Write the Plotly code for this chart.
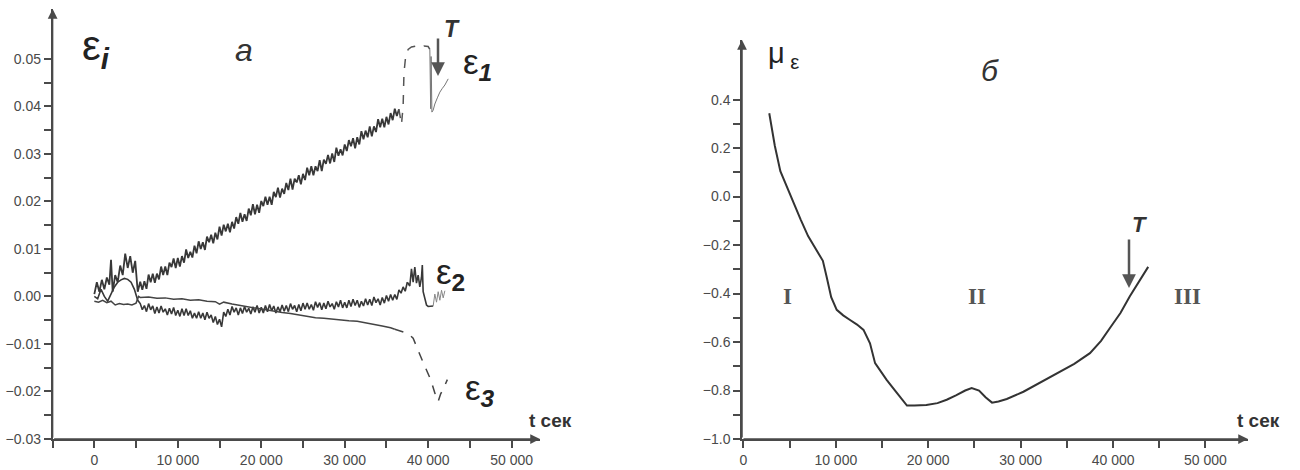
import plotly.graph_objects as go

W, H = 1300, 470

# ---------------- data ----------------
# panel a : strains eps_1, eps_2, eps_3 vs time (s)
eps1_start_t = [0, 300, 600, 900, 1200, 1500, 1800, 2000, 2200, 2500, 2800, 3100, 3400, 3700, 4000, 4300, 4600, 4900, 5200]
eps1_start_v = [0.0005, 0.003, 0.001, 0.0035, 0.0015, 0.004, 0.0025, 0.0077, 0.001, 0.0045, 0.003, 0.0065, 0.0045, 0.009, 0.006, 0.0085, 0.005, 0.0075, 0.001]

eps1_main_t = list(range(5500, 36750, 250))
eps1_main_v = [0.0031, 0.0014, 0.0032, 0.0016, 0.0046, 0.0030, 0.0048, 0.0029, 0.0048, 0.0036,
               0.0063, 0.0045, 0.0063, 0.0045, 0.0071, 0.0062, 0.0080, 0.0060, 0.0081, 0.0063,
               0.0085, 0.0071, 0.0099, 0.0081, 0.0094, 0.0082, 0.0107, 0.0091, 0.0116, 0.0100,
               0.0114, 0.0098, 0.0126, 0.0114, 0.0130, 0.0112, 0.0134, 0.0120, 0.0147, 0.0128,
               0.0151, 0.0137, 0.0153, 0.0135, 0.0157, 0.0143, 0.0167, 0.0153, 0.0176, 0.0157,
               0.0173, 0.0159, 0.0185, 0.0171, 0.0194, 0.0173, 0.0193, 0.0176, 0.0201, 0.0190,
               0.0210, 0.0193, 0.0210, 0.0193, 0.0220, 0.0209, 0.0229, 0.0208, 0.0227, 0.0216,
               0.0239, 0.0224, 0.0248, 0.0225, 0.0248, 0.0240, 0.0255, 0.0236, 0.0258, 0.0245,
               0.0271, 0.0255, 0.0274, 0.0255, 0.0274, 0.0264, 0.0287, 0.0264, 0.0288, 0.0279,
               0.0298, 0.0280, 0.0301, 0.0283, 0.0313, 0.0296, 0.0310, 0.0297, 0.0320, 0.0306,
               0.0329, 0.0316, 0.0333, 0.0312, 0.0335, 0.0320, 0.0348, 0.0331, 0.0349, 0.0335,
               0.0358, 0.0337, 0.0358, 0.0346, 0.0373, 0.0356, 0.0374, 0.0356, 0.0378, 0.0362,
               0.0386, 0.0371, 0.0395, 0.0380, 0.0394]

eps1_top_t = [36500, 36800, 37000, 37100, 37300, 37600, 38000, 38500, 39000, 39500, 40000, 40200]
eps1_top_v = [0.0394, 0.0362, 0.0400, 0.0470, 0.0505, 0.0520, 0.0525, 0.0527, 0.0524, 0.0527, 0.0526, 0.0520]

eps1_tail_t = [40200, 40300, 40350, 40450, 40600, 40800, 41100, 41400, 41700, 42000, 42400]
eps1_tail_v = [0.0520, 0.0395, 0.0505, 0.0388, 0.0392, 0.0405, 0.0418, 0.0430, 0.0438, 0.0445, 0.0458]

eps2_start_t = [0, 400, 800, 1200, 1600, 2000, 2400, 2800, 3200, 3600, 4000, 4400, 4800, 5200]
eps2_start_v = [0.0, -0.0005, 0.0015, 0.0, -0.001, 0.0005, 0.002, 0.003, 0.0035, 0.0038, 0.0036, 0.003, 0.0015, -0.0008]

eps2_main_t = list(range(5500, 37750, 250))
eps2_main_v = [-0.0015, -0.0028, -0.0019, -0.0032, -0.0015, -0.0028, -0.0020, -0.0036, -0.0022, -0.0035,
               -0.0020, -0.0033, -0.0026, -0.0039, -0.0025, -0.0037, -0.0023, -0.0040, -0.0029, -0.0042,
               -0.0026, -0.0040, -0.0026, -0.0040, -0.0030, -0.0046, -0.0035, -0.0046, -0.0032, -0.0046,
               -0.0035, -0.0049, -0.0033, -0.0046, -0.0039, -0.0055, -0.0042, -0.0059, -0.0048, -0.0064,
               -0.0033, -0.0042, -0.0027, -0.0039, -0.0021, -0.0033, -0.0024, -0.0039, -0.0024, -0.0036,
               -0.0021, -0.0033, -0.0025, -0.0037, -0.0022, -0.0033, -0.0019, -0.0035, -0.0023, -0.0035,
               -0.0019, -0.0032, -0.0017, -0.0030, -0.0020, -0.0035, -0.0022, -0.0032, -0.0018, -0.0031,
               -0.0019, -0.0032, -0.0015, -0.0027, -0.0019, -0.0032, -0.0017, -0.0030, -0.0014, -0.0027,
               -0.0014, -0.0027, -0.0017, -0.0029, -0.0011, -0.0023, -0.0013, -0.0028, -0.0014, -0.0026,
               -0.0010, -0.0022, -0.0015, -0.0027, -0.0011, -0.0022, -0.0008, -0.0024, -0.0012, -0.0024,
               -0.0008, -0.0021, -0.0006, -0.0019, -0.0008, -0.0023, -0.0010, -0.0020, -0.0005, -0.0018,
               -0.0006, -0.0019, -0.0001, -0.0013, -0.0005, -0.0018, -0.0002, -0.0014, 0.0002, -0.0010,
               0.0004, -0.0008, 0.0004, -0.0006, 0.0014, 0.0007, 0.0020, 0.0011, 0.0030]

eps2_end_t = [37500, 37800, 38000, 38200, 38400, 38600, 38800, 39000, 39200, 39300, 39400, 39600, 39800, 40000, 40300, 40600]
eps2_end_v = [0.0030, 0.0022, 0.0058, 0.0030, 0.0062, 0.0028, 0.0045, 0.0020, 0.0040, 0.0066, 0.0010, -0.0005, -0.0018, -0.0021, -0.0021, -0.0020]

eps2_tail_t = [40600, 40800, 41000, 41200, 41400, 41600, 41800, 42000]
eps2_tail_v = [-0.0020, 0.0005, -0.0012, 0.0010, -0.0008, 0.0013, -0.0003, 0.0012]

eps3_t = [0, 500, 1000, 1500, 2000, 2500, 3000, 3500, 4000, 4500, 5000, 5300,
          5500, 6500, 7500, 8500, 9500, 10500, 11500, 12500, 13500, 14500, 15000, 15500,
          16500, 17500, 18500, 19500, 20500, 21500, 22500, 23500, 24500, 25500, 26500, 27500,
          28500, 29500, 30500, 31500, 32500, 33500, 34500, 35500, 36000]
eps3_v = [-0.0010, -0.0012, -0.0008, -0.0013, -0.0010, -0.0018, -0.0015, -0.0017, -0.0016, -0.0018, -0.0014, 0.0000,
          -0.0002, -0.0001, -0.0004, -0.0003, -0.0006, -0.0005, -0.0008, -0.0007, -0.0010, -0.0011, -0.0016, -0.0012,
          -0.0016, -0.0019, -0.0022, -0.0025, -0.0029, -0.0031, -0.0034, -0.0036, -0.0039, -0.0042, -0.0045, -0.0046,
          -0.0048, -0.0049, -0.0051, -0.0052, -0.0055, -0.0058, -0.0062, -0.0066, -0.0069]

eps3_end_t = [36000, 37000, 37600, 38200, 38700, 39000, 39400, 39800, 40300, 40800, 41000, 41200, 41500, 41800, 42300]
eps3_end_v = [-0.0069, -0.0074, -0.0078, -0.0088, -0.0112, -0.0122, -0.0139, -0.0155, -0.0175, -0.0203, -0.0215, -0.0221, -0.0205, -0.0195, -0.0175]

# panel б : mu_eps vs time
mu_t = [2800, 3400, 4000, 4700, 5400, 6200, 7000, 7800, 8600, 9000, 9500, 10100, 10800, 11500, 12300, 13000,
        13700, 14250, 14900, 15500, 16500, 17700, 18500, 19800, 21000, 22000, 23000, 24000, 24700, 25500,
        26200, 26900, 27600, 28500, 30300, 32000, 34000, 35800, 37500, 38700, 39700, 40800, 41800, 42800, 43800]
mu_v = [0.344, 0.21, 0.105, 0.04, -0.026, -0.095, -0.163, -0.215, -0.265, -0.33, -0.415, -0.467, -0.49, -0.508, -0.528, -0.55,
        -0.605, -0.687, -0.725, -0.756, -0.805, -0.862, -0.862, -0.86, -0.852, -0.838, -0.82, -0.80, -0.79, -0.80,
        -0.828, -0.85, -0.845, -0.835, -0.805, -0.77, -0.728, -0.69, -0.646, -0.595, -0.54, -0.48, -0.412, -0.35, -0.29]

# tick labels
a_yticks = [-0.03, -0.02, -0.01, 0.0, 0.01, 0.02, 0.03, 0.04, 0.05]
a_yticktext = ["\u22120.03", "\u22120.02", "\u22120.01", "0.00", "0.01", "0.02", "0.03", "0.04", "0.05"]
a_yminor = [-0.025, -0.015, -0.005, 0.005, 0.015, 0.025, 0.035, 0.045]
t_ticks = [0, 10000, 20000, 30000, 40000, 50000]
t_ticktext = ["0", "10 000", "20 000", "30 000", "40 000", "50 000"]
a_xminor = [-5000, 5000, 15000, 25000, 35000, 45000]
b_xminor = [5000, 15000, 25000, 35000, 45000]
b_yticks = [-1.0, -0.8, -0.6, -0.4, -0.2, 0.0, 0.2, 0.4]
b_yticktext = ["\u22121.0", "\u22120.8", "\u22120.6", "\u22120.4", "\u22120.2", "0.0", "0.2", "0.4"]
b_yminor = [-0.9, -0.7, -0.5, -0.3, -0.1, 0.1, 0.3]

for a, b in [(eps1_start_t, eps1_start_v), (eps1_main_t, eps1_main_v), (eps1_top_t, eps1_top_v),
             (eps1_tail_t, eps1_tail_v), (eps2_start_t, eps2_start_v), (eps2_main_t, eps2_main_v),
             (eps2_end_t, eps2_end_v), (eps2_tail_t, eps2_tail_v), (eps3_t, eps3_v),
             (eps3_end_t, eps3_end_v), (mu_t, mu_v)]:
    assert len(a) == len(b), (len(a), len(b))

# ---------------- layout helpers ----------------
def xd(p0, p1):
    return [p0 / W, p1 / W]

def yd(top, bottom):
    return [1 - bottom / H, 1 - top / H]

def px(x):
    return x / W

def py(y):
    return 1 - y / H

DARK = "#333333"
AX = "#4a4a4a"
FONT = "Liberation Sans, Arial, sans-serif"

fig = go.Figure()

def line(x, y, xa, ya, color=DARK, width=1.0, dash="solid"):
    fig.add_trace(go.Scatter(x=x, y=y, mode="lines", xaxis=xa, yaxis=ya,
                             line=dict(color=color, width=width, dash=dash),
                             showlegend=False, hoverinfo="skip"))

# panel a
line(eps1_start_t + eps1_main_t, eps1_start_v + eps1_main_v, "x", "y", color="#383838", width=1.8)
line(eps1_top_t, eps1_top_v, "x", "y", color="#555", width=1.5, dash="dash")
line(eps1_tail_t, eps1_tail_v, "x", "y", color="#777", width=1.0)
line(eps2_start_t + eps2_main_t, eps2_start_v + eps2_main_v, "x", "y", color="#383838", width=1.6)
line(eps2_end_t, eps2_end_v, "x", "y", color="#383838", width=1.6)
line(eps2_tail_t, eps2_tail_v, "x", "y", color="#888", width=1.0)
line(eps3_t, eps3_v, "x", "y", color="#444", width=1.5)
line(eps3_end_t, eps3_end_v, "x", "y", color="#444", width=1.5, dash="dash")

# panel б
line(mu_t, mu_v, "x2", "y2", width=2.0)

A_XR = [-5000, 53400]
A_YR = [-0.03, 0.0605]
B_XR = [-150, 54600]
B_YR = [-1.0, 0.646]

tickfont = dict(family=FONT, size=14, color="#4a4a4a")
common = dict(showgrid=False, zeroline=False, showline=True, linecolor=AX, linewidth=1.5,
              ticks="outside", ticklen=7, tickwidth=1.5, tickcolor=AX, tickfont=tickfont,
              automargin=False, fixedrange=True)
minor_common = dict(ticks="outside", ticklen=7, tickwidth=1.5, tickcolor=AX, showgrid=False)

fig.update_layout(
    width=W, height=H,
    margin=dict(l=0, r=0, t=0, b=0),
    paper_bgcolor="white", plot_bgcolor="white",
    xaxis=dict(domain=xd(52.6, 540), range=A_XR, anchor="y", tickmode="array",
               tickvals=t_ticks, ticktext=t_ticktext,
               minor=dict(tickvals=a_xminor, **minor_common), **common),
    yaxis=dict(domain=yd(9, 439), range=A_YR, anchor="x", tickmode="array",
               tickvals=a_yticks, ticktext=a_yticktext,
               minor=dict(tickvals=a_yminor, **minor_common), **common),
    xaxis2=dict(domain=xd(742, 1248), range=B_XR, anchor="y2", tickmode="array",
                tickvals=t_ticks, ticktext=t_ticktext,
                minor=dict(tickvals=b_xminor, **minor_common), **common),
    yaxis2=dict(domain=yd(40, 439), range=B_YR, anchor="x2", tickmode="array",
                tickvals=b_yticks, ticktext=b_yticktext,
                minor=dict(tickvals=b_yminor, **minor_common), **common),
)

ann = []

def axis_arrow(xr, yr, x0, y0, x1, y1):
    ann.append(dict(xref=xr, yref=yr, axref=xr, ayref=yr, x=x1, y=y1, ax=x0, ay=y0,
                    text="", showarrow=True, arrowhead=2, arrowsize=1.3, arrowwidth=1.5,
                    arrowcolor=AX, standoff=0, startstandoff=0))

# arrowheads on the axes
axis_arrow("x", "y", A_XR[0], A_YR[0], A_XR[0], A_YR[1])
axis_arrow("x", "y", A_XR[0], A_YR[0], A_XR[1], A_YR[0])
axis_arrow("x2", "y2", B_XR[0], B_YR[0], B_XR[0], B_YR[1])
axis_arrow("x2", "y2", B_XR[0], B_YR[0], B_XR[1], B_YR[0])

def txt(x, y, s, size, color=DARK, family=FONT, xanchor="center", yanchor="middle"):
    ann.append(dict(xref="paper", yref="paper", x=px(x), y=py(y), text=s, showarrow=False,
                    font=dict(family=family, size=size, color=color),
                    xanchor=xanchor, yanchor=yanchor))

# panel a labels
txt(96, 48, "\u03b5<sub><b><i>i</i></b></sub>", 42, color="#222")
txt(244, 50, "<i>a</i>", 32)
txt(477, 64, "\u03b5<sub><b><i>1</i></b></sub>", 35, color="#222")
txt(450, 274, "\u03b5<sub><b>2</b></sub>", 35, color="#222")
txt(480, 390, "\u03b5<sub><b><i>3</i></b></sub>", 35, color="#222")
txt(452, 29, "<b><i>T</i></b>", 23)
txt(550, 420, "<b>t сек</b>", 19)

# panel б labels
txt(783, 55, "\u03bc<sub> \u03b5</sub>", 29, color="#222")
txt(990, 70, "<i>б</i>", 30)
txt(1139, 224, "<b><i>T</i></b>", 22)
txt(1258, 420, "<b>t сек</b>", 19)
SERIF = "Liberation Serif, Times New Roman, serif"
txt(787, 296, "<b>I</b>", 23, color="#555", family=SERIF)
txt(977, 296, "<b>II</b>", 23, color="#555", family=SERIF)
txt(1187, 296, "<b>III</b>", 23, color="#555", family=SERIF)

# T arrows
for xh, yh, yt in [(438, 76, 37), (1129, 288, 238)]:
    ann.append(dict(xref="paper", yref="paper", x=px(xh), y=py(yh), ax=0, ay=-(yh - yt),
                    text="", showarrow=True, arrowhead=2, arrowsize=1.1, arrowwidth=2.5,
                    arrowcolor="#555", standoff=0))

fig.update_layout(annotations=ann)

fig.write_html("out.html")
